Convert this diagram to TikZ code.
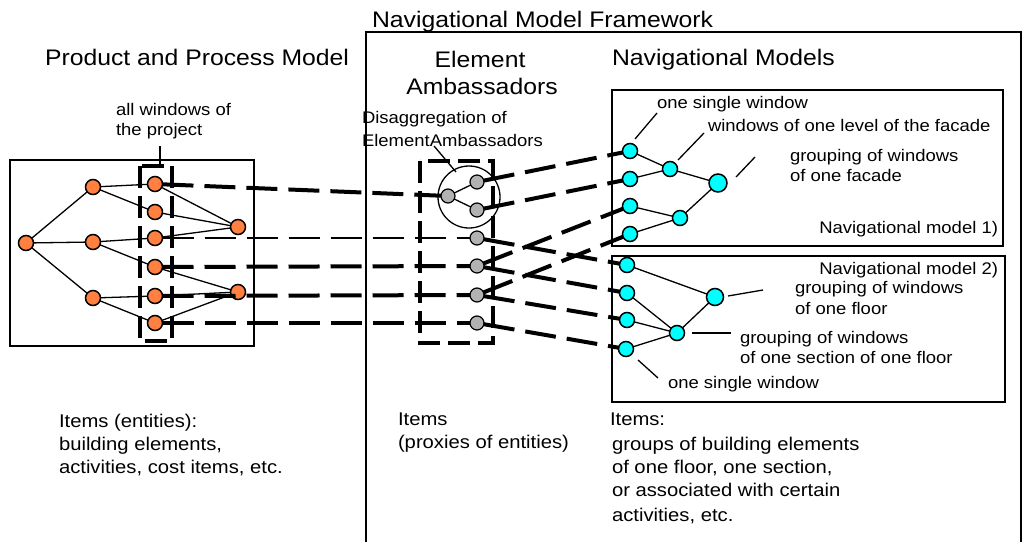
\documentclass[tikz,border=0pt]{standalone}
\usepackage{fontspec}
\setmainfont{Liberation Sans}[FakeStretch=1.1]
\definecolor{norange}{RGB}{255,128,64}
\definecolor{ncyan}{RGB}{0,255,255}
\definecolor{ngray}{RGB}{178,178,178}
\newcommand\hfont{\fontsize{22.5}{26}\selectfont}
\newcommand\lfont{\fontsize{16.8}{20}\selectfont}
\newcommand\bfont{\fontsize{18.4}{22}\selectfont}
\begin{document}
\begin{tikzpicture}[x=1pt,y=-1pt,
  every node/.style={inner sep=0pt,outer sep=0pt},
  txt/.style={anchor=base west},
  onode/.style={circle,draw,fill=norange,line width=1.5pt,minimum size=15pt},
  cnode/.style={circle,draw,fill=ncyan,line width=1.5pt,minimum size=15pt},
  gnode/.style={circle,draw,fill=ngray,line width=1.2pt,minimum size=14pt},
  edge/.style={line width=1.3pt},
  lead/.style={line width=1.3pt},
  box/.style={draw,line width=2pt},
  dbox/.style={draw,line width=3.5pt,dash pattern=on 22pt off 8pt},
  thickdash/.style={line width=4pt,dash pattern=on 31pt off 11pt},
  thindash/.style={line width=1.5pt,dash pattern=on 31pt off 11pt}]
\useasboundingbox (0,0) rectangle (1024,541);
\fill[white] (0,0) rectangle (1024,541);

% boxes
\draw[line width=2.5pt] (366,545) -- (366,32) -- (1021,32) -- (1021,545);
\draw[box] (10,160) rectangle (254,346);
\draw[box] (612,90) rectangle (1003,246);
\draw[box] (612,256) rectangle (1005,402);

% headings
\node[txt] (tFw) at (372,27) {\hfont Navigational Model Framework};
\node[txt] (tPP) at (45,65) {\hfont Product and Process Model};
\node[anchor=base] (tEA1) at (480,67) {\hfont Element};
\node[anchor=base] (tEA2) at (482,94) {\hfont Ambassadors};
\node[txt] (tNM) at (612,65) {\hfont Navigational Models};

% labels
\node[txt] (tAll1) at (116,115) {\lfont all windows of};
\node[txt] (tAll2) at (116,135) {\lfont the project};
\node[txt] (tDis1) at (362,123) {\lfont Disaggregation of};
\node[txt] (tDis2) at (362,146) {\lfont ElementAmbassadors};
\node[txt] (tA1) at (657,108) {\lfont one single window};
\node[txt] (tA2) at (708,131) {\lfont windows of one level of the facade};
\node[txt] (tA3) at (790,161) {\lfont grouping of windows};
\node[txt] (tA4) at (790,181) {\lfont of one facade};
\node[anchor=base east] (tM1) at (998,233) {\lfont Navigational model 1)};
\node[anchor=base east] (tM2) at (998,274) {\lfont Navigational model 2)};
\node[txt] (tB1) at (795,293) {\lfont grouping of windows};
\node[txt] (tB2) at (795,314) {\lfont of one floor};
\node[txt] (tB3) at (740,343) {\lfont grouping of windows};
\node[txt] (tB4) at (740,363) {\lfont of one section of one floor};
\node[txt] (tB5) at (668,388) {\lfont one single window};

% bottom texts
\node[txt] (i1) at (59,427) {\bfont Items (entities):};
\node[txt] (i2) at (59,450) {\bfont building elements,};
\node[txt] (i3) at (59,473) {\bfont activities, cost items, etc.};
\node[txt] (j1) at (398,425) {\bfont Items};
\node[txt] (j2) at (398,448) {\bfont (proxies of entities)};
\node[txt] (k1) at (610,425) {\bfont Items:};
\node[txt] (k2) at (612,450) {\bfont groups of building elements};
\node[txt] (k3) at (612,473) {\bfont of one floor, one section,};
\node[txt] (k4) at (612,496) {\bfont or associated with certain};
\node[txt] (k5) at (612,521) {\bfont activities, etc.};

% dashed selection boxes
\draw[dbox] (140,166) rectangle (172,341);
\draw[dbox] (420,161) rectangle (493,343);
\draw[line width=1.3pt] (469,197) circle [radius=31];

% orange nodes
\node[onode] (r0) at (26,243) {};
\node[onode] (m1) at (93,187) {};
\node[onode] (m2) at (93,242) {};
\node[onode] (m3) at (93,298) {};
\node[onode] (c1) at (155,184) {};
\node[onode] (c2) at (155,212) {};
\node[onode] (c3) at (155,238) {};
\node[onode] (c4) at (155,267) {};
\node[onode] (c5) at (155,296) {};
\node[onode] (c6) at (155,323) {};
\node[onode] (p1) at (238,227) {};
\node[onode] (p2) at (238,292) {};

% gray nodes
\node[gnode] (g0) at (448,196) {};
\node[gnode] (g1) at (477,182) {};
\node[gnode] (g2) at (477,210) {};
\node[gnode] (g3) at (477,238) {};
\node[gnode] (g4) at (477,266) {};
\node[gnode] (g5) at (477,295) {};
\node[gnode] (g6) at (477,323) {};

% cyan nodes
\node[cnode] (a1) at (630,151) {};
\node[cnode] (a2) at (630,179) {};
\node[cnode] (a3) at (630,206) {};
\node[cnode] (a4) at (630,234) {};
\node[cnode] (b1) at (670,169) {};
\node[cnode] (b2) at (680,218) {};
\node[cnode,minimum size=18pt] (t1) at (718,183) {};
\node[cnode] (d1) at (627,265) {};
\node[cnode] (d2) at (627,293) {};
\node[cnode] (d3) at (627,320) {};
\node[cnode] (d4) at (626,349) {};
\node[cnode] (e1) at (677,333) {};
\node[cnode,minimum size=17pt] (e2) at (715,297) {};

% graph edges
\draw[edge] (r0) -- (m1); \draw[edge] (r0) -- (m2); \draw[edge] (r0) -- (m3);
\draw[edge] (m1) -- (c1); \draw[edge] (m1) -- (c2);
\draw[edge] (m2) -- (c3); \draw[edge] (m2) -- (c4);
\draw[edge] (m3) -- (c5); \draw[edge] (m3) -- (c6);
\draw[edge] (c1) -- (p1); \draw[edge] (c2) -- (p1); \draw[edge] (c3) -- (p1);
\draw[edge] (c4) -- (p2); \draw[edge] (c5) -- (p2); \draw[edge] (c6) -- (p2);
\draw[edge] (g0) -- (g1); \draw[edge] (g0) -- (g2);
\draw[edge] (a1) -- (b1); \draw[edge] (a2) -- (b1);
\draw[edge] (a3) -- (b2); \draw[edge] (a4) -- (b2);
\draw[edge] (b1) -- (t1); \draw[edge] (b2) -- (t1);
\draw[edge] (d1) -- (e2); \draw[edge] (e1) -- (e2);
\draw[edge] (d2) -- (e1); \draw[edge] (d3) -- (e1); \draw[edge] (d4) -- (e1);

% mapping connectors
\draw[thickdash] (c1) -- (g0);
\draw[thindash] (c3) -- (g3);
\draw[thickdash] (c4) -- (g4);
\draw[thickdash] (c5) -- (g5);
\draw[thickdash] (c6) -- (g6);
\draw[thickdash] (g1) -- (a1);
\draw[thickdash] (g2) -- (a2);
\draw[thickdash] (g3) -- (d1);
\draw[thickdash] (g4) -- (a3);
\draw[thickdash] (g4) -- (d2);
\draw[thickdash] (g5) -- (a4);
\draw[thickdash] (g5) -- (d3);
\draw[thickdash] (g6) -- (d4);

% leader lines
\coordinate (lAll) at (160,146);
\draw[lead] (lAll) -- (160,165);
\coordinate (lDis) at (434,146);
\draw[lead] (lDis) -- (456,172);
\coordinate (lA1) at (657,113);
\draw[lead] (lA1) -- (635,139);
\coordinate (lA2) at (704,133);
\draw[lead] (lA2) -- (678,160);
\coordinate (lA3) at (755,157);
\draw[lead] (lA3) -- (736,177);
\coordinate (lB1) at (763,290);
\draw[lead] (lB1) -- (728,296);
\coordinate (lB3) at (731,333);
\draw[lead] (lB3) -- (692,333);
\coordinate (lB5) at (658,378);
\draw[lead] (lB5) -- (638,360);
\end{tikzpicture}
\end{document}
